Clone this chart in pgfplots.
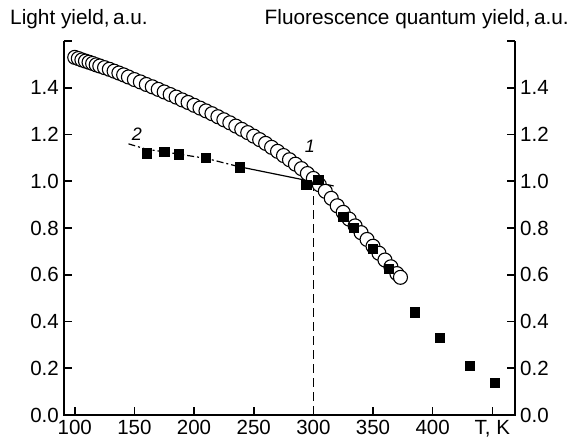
\documentclass[border=0pt]{standalone}
\usepackage{pgfplots}
\pgfplotsset{compat=1.18}
\usepackage{fontspec}
\setmainfont{Liberation Sans}
\begin{document}
\begin{tikzpicture}[font=\fontsize{20}{24}\selectfont]
\begin{axis}[
  scale only axis, width=451pt, height=374pt,
  xmin=91, xmax=469, ymin=0, ymax=1.6,
  axis line style={draw=none},
  xtick={100,150,200,250,300,350,400,450},
  xticklabels={100,150,200,250,300,350,400,{T, K}},
  ytick={0,0.2,0.4,0.6,0.8,1.0,1.2,1.4,1.6},
  yticklabels={0.0,0.2,0.4,0.6,0.8,1.0,1.2,1.4,{}},
  xtick pos=bottom, ytick pos=both,
  tick align=inside, major tick length=8pt,
  tick style={line width=1.6pt, black},
  tick label style={font=\fontsize{20.5}{24}\selectfont},
  yticklabel style={inner xsep=5pt},
  xticklabel style={inner ysep=5pt},
  clip=false,
]
\draw[line width=1.8pt, line join=miter] (rel axis cs:0,1) -- (rel axis cs:0,0) -- (rel axis cs:1,0) -- (rel axis cs:1,1);
\coordinate (sw) at (rel axis cs:0,0);
\coordinate (ne) at (rel axis cs:1,1);
% dashed vertical line at 300 K
\addplot[black, line width=1.1pt, dash pattern=on 9pt off 5pt] coordinates {(300,0) (300,0.97)};
% curve 1: light yield (open circles)
\addplot[only marks, mark=*, mark size=7pt, mark options={fill=white, draw=black, line width=1.1pt}] coordinates {
(100,1.530) (103,1.525) (106,1.519) (109,1.514) (112,1.509) (115,1.504) (118,1.498) (121,1.493)
(125,1.486) (129,1.479) (133,1.471) (137,1.463) (141,1.455) (145,1.446) (150,1.435) (155,1.425)
(160,1.414) (165,1.404) (170,1.393) (175,1.382) (180,1.371) (185,1.360) (190,1.348) (195,1.337)
(200,1.325) (205,1.313) (210,1.301) (215,1.289) (220,1.276) (225,1.263) (230,1.250) (235,1.236)
(240,1.222) (245,1.208) (250,1.193) (255,1.178) (260,1.162) (265,1.145) (270,1.128) (275,1.110)
(280,1.092) (285,1.073) (290,1.054) (295,1.033) (300,1.012) (305,0.985) (310,0.957) (315,0.927)
(320,0.895) (325,0.867) (330,0.838) (335,0.809) (340,0.780) (345,0.751) (350,0.722) (355,0.692)
(360,0.663) (365,0.634) (370,0.605) (373,0.589)};
% curve 2 fit lines
\addplot[black, line width=1.2pt, dash pattern=on 7pt off 3pt on 2pt off 3pt] coordinates {
(145,1.160) (160,1.137) (175,1.126) (187,1.116) (210,1.098) (238,1.062)};
\addplot[black, line width=1.2pt] coordinates {(238,1.062) (317,0.980)};
% curve 2: fluorescence quantum yield (filled squares)
\addplot[only marks, mark=square*, mark size=4.6pt, mark options={fill=black, draw=black}] coordinates {
(160,1.120) (175,1.128) (187,1.116) (210,1.102) (238,1.060) (294,0.986) (304,1.007)
(325,0.847) (334,0.800) (350,0.713) (363,0.626) (385,0.440) (406,0.330) (431,0.210) (452,0.139)};
\node[font=\fontsize{18}{20}\selectfont\itshape] at (axis cs:297,1.15) {1};
\node[font=\fontsize{18}{20}\selectfont\itshape] at (axis cs:152,1.20) {2};
\node[anchor=base west, inner sep=0pt, font=\fontsize{20.8}{24}\selectfont] at ([xshift=-54pt,yshift=16pt]rel axis cs:0,1) {Light yield,\,a.u.};
\node[anchor=base east, inner sep=0pt, font=\fontsize{20.8}{24}\selectfont] at ([xshift=54pt,yshift=16pt]rel axis cs:1,1) {Fluorescence quantum yield,\,a.u.};
\end{axis}
\begin{axis}[
  scale only axis, width=451pt, height=374pt,
  xmin=91, xmax=469, ymin=0, ymax=1.6,
  hide x axis, axis line style={draw=none},
  ytick={0,0.2,0.4,0.6,0.8,1.0,1.2,1.4,1.6},
  yticklabels={0.0,0.2,0.4,0.6,0.8,1.0,1.2,1.4,{}},
  tick label style={font=\fontsize{20.5}{24}\selectfont},
  yticklabel style={inner xsep=5pt},
  ytick pos=right, yticklabel pos=right, major tick length=0pt,
]
\addplot[draw=none] coordinates {(100,0)};
\end{axis}
\pgfresetboundingbox
\path[use as bounding box] ([xshift=-64pt,yshift=-26pt]sw) rectangle ([xshift=58pt,yshift=41pt]ne);
\end{tikzpicture}
\end{document}
